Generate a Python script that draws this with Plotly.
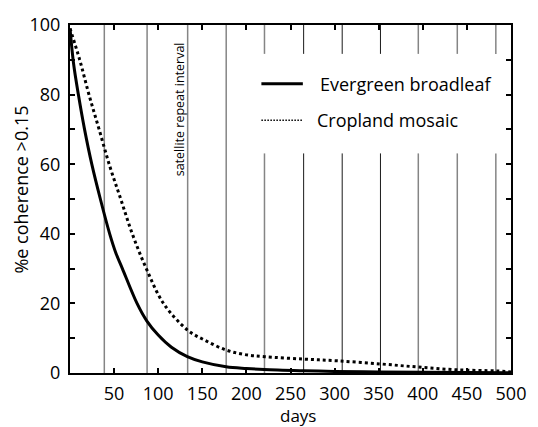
import plotly.graph_objects as go

# ---- data ----
evergreen_days = [0, 4, 9.5, 16.5, 24.7, 34.4, 45, 52, 59.4, 76, 87, 100, 115, 133,
                  150, 177, 200, 220, 265, 300, 350, 400, 450, 500]
evergreen_vals = [99, 89, 80, 70, 60, 50, 40, 34.5, 30, 20, 15, 10.9, 7.4, 4.7,
                  3.2, 1.8, 1.3, 1.0, 0.65, 0.45, 0.3, 0.2, 0.12, 0.05]

cropland_days = [0, 11, 21.5, 33, 45, 57.5, 70.6, 86.5, 106, 133.4, 153, 177,
                 198, 220.5, 265, 303, 352, 395, 439, 483, 500]
cropland_vals = [99, 90, 80, 70, 59.5, 50, 40, 30, 20, 12.3, 9.4, 6.6,
                 5.3, 4.7, 4.0, 3.5, 2.6, 1.7, 0.9, 0.6, 0.3]

repeat_days = [38.9, 87.4, 133.4, 177.1, 220.5, 264.9, 308.6, 352.0, 394.9, 439.1, 482.8]
repeat_dark = [False, False, False, False, False, True, True, True, False, False, False]

x_ticks = [50, 100, 150, 200, 250, 300, 350, 400, 450, 500]
y_ticks = [0, 20, 40, 60, 80, 100]

series_names = ["Evergreen broadleaf", "Cropland mosaic"]
x_title = "days"
y_title = "%e coherence >0.15"
repeat_label = "satellite repeat interval"

FONT = "Open Sans"

fig = go.Figure()

fig.add_trace(go.Scatter(x=evergreen_days, y=evergreen_vals, mode="lines",
                         line=dict(color="black", width=3, shape="spline", smoothing=1.0),
                         name=series_names[0], showlegend=False))
fig.add_trace(go.Scatter(x=cropland_days, y=cropland_vals, mode="lines",
                         line=dict(color="black", width=3, dash="dot", shape="spline", smoothing=1.0),
                         name=series_names[1], showlegend=False))

# vertical repeat-interval lines (gap where the legend sits)
gap_lo, gap_hi = 63.1, 91.7
shapes = []
for d, dark in zip(repeat_days, repeat_dark):
    col = "#1a1a1a" if dark else "#858585"
    w = 1 if dark else 1.5
    if d > 200:
        segs = [(0, gap_lo), (gap_hi, 100)]
    else:
        segs = [(0, 100)]
    for y0, y1 in segs:
        shapes.append(dict(type="line", xref="x", yref="y", x0=d, x1=d, y0=y0, y1=y1,
                           line=dict(color=col, width=w), layer="below"))

# legend samples
shapes.append(dict(type="line", xref="paper", yref="paper", x0=0.434, x1=0.528,
                   y0=0.831, y1=0.831, line=dict(color="black", width=3)))
shapes.append(dict(type="line", xref="paper", yref="paper", x0=0.434, x1=0.528,
                   y0=0.726, y1=0.726, line=dict(color="black", width=1.5, dash="1.5px,1.5px")))

annotations = [
    dict(text=series_names[0], xref="paper", yref="paper", x=0.562, y=0.831,
         xanchor="left", yanchor="middle", showarrow=False,
         font=dict(family=FONT, size=18, color="black")),
    dict(text=series_names[1], xref="paper", yref="paper", x=0.556, y=0.726,
         xanchor="left", yanchor="middle", showarrow=False,
         font=dict(family=FONT, size=18, color="black")),
    dict(text=repeat_label, xref="x", yref="y", x=124.4, y=75.7, textangle=-90,
         xanchor="center", yanchor="middle", showarrow=False,
         font=dict(family=FONT, size=12.5, color="black")),
    dict(text=y_title, xref="paper", yref="paper", x=-0.112, y=0.526, textangle=-90,
         xanchor="center", yanchor="middle", showarrow=False,
         font=dict(family=FONT, size=18, color="black")),
    dict(text=x_title, xref="paper", yref="paper", x=0.517, y=-0.123,
         xanchor="center", yanchor="middle", showarrow=False,
         font=dict(family=FONT, size=17, color="black")),
]

fig.update_layout(
    width=538, height=427,
    margin=dict(l=70, r=23, t=23, b=54),
    paper_bgcolor="white", plot_bgcolor="white",
    font=dict(family=FONT, size=18, color="black"),
    shapes=shapes, annotations=annotations,
    showlegend=False,
)
fig.update_xaxes(range=[0, 500], tickvals=x_ticks, ticks="inside", ticklen=5, tickwidth=1.5,
                 tickcolor="black", showline=True, linecolor="black", linewidth=2,
                 mirror="allticks", showgrid=False, zeroline=False,
                 ticklabelstandoff=3, tickfont=dict(family=FONT, size=18))
fig.update_yaxes(range=[0, 100], tickvals=y_ticks, ticks="inside", ticklen=5, tickwidth=1.5,
                 tickcolor="black", showline=True, linecolor="black", linewidth=2,
                 mirror="allticks", showgrid=False, zeroline=False,
                 minor=dict(dtick=10, ticks="inside", ticklen=5, tickwidth=1.5, tickcolor="black", showgrid=False),
                 ticklabelstandoff=4, tickfont=dict(family=FONT, size=18))

fig.write_html("out.html")
